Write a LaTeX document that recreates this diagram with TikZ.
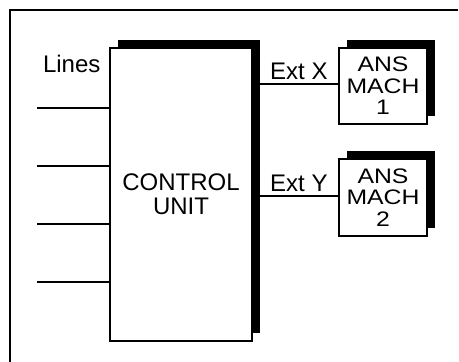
\documentclass[tikz,border=0pt]{standalone}
\usepackage{fontspec}
\setmainfont{Liberation Sans}
\newfontfamily\widefont[FakeStretch=1.18]{Liberation Sans}
\usetikzlibrary{shadows}
\begin{document}
\begin{tikzpicture}[x=1pt,y=-1pt,
  shadowbox/.style={draw=black, line width=2pt, fill=white, inner sep=0pt,
    drop shadow={shadow xshift=7.8pt, shadow yshift=8pt, fill=black, opacity=1}},
  wire/.style={line width=2pt},
  lbl/.style={inner sep=0pt, font=\fontsize{24}{24}\selectfont},
  boxtext/.style={align=center, font=\widefont\fontsize{21}{21.5}\selectfont}]
\useasboundingbox (0,0) rectangle (459,362);
% outer frame
\draw[line width=2.2pt] (10,362) coordinate (fbl) -- (10,10) coordinate (ftl) -- (458,10) coordinate (ftr);
% control unit
\node[shadowbox, minimum width=142pt, minimum height=293pt, align=center, font=\fontsize{24}{24}\selectfont] (cu) at (181,194.2) {CONTROL\\UNIT};
% answering machines
\node[shadowbox, minimum width=87.5pt, minimum height=76.5pt, boxtext] (m1) at (383,86) {ANS\\MACH\\1};
\node[shadowbox, minimum width=87.5pt, minimum height=77pt, boxtext] (m2) at (383,197.5) {ANS\\MACH\\2};
% input lines
\node[lbl, anchor=base] (lines) at (71.7,72.3) {Lines};
\foreach \i/\y in {1/108.3,2/165.7,3/223.7,4/281.7}{
  \coordinate (in\i) at (37.3,\y);
  \draw[wire] (in\i) -- (in\i -| cu.west);
}
% extension lines
\coordinate (ex) at (260,84.3);
\coordinate (ey) at (260,196);
\draw[wire] (ex) -- (ex -| m1.west);
\draw[wire] (ey) -- (ey -| m2.west);
\node[lbl, anchor=base west] (extx) at (270,79) {Ext X};
\node[lbl, anchor=base west] (exty) at (270,191) {Ext Y};
\end{tikzpicture}
\end{document}
